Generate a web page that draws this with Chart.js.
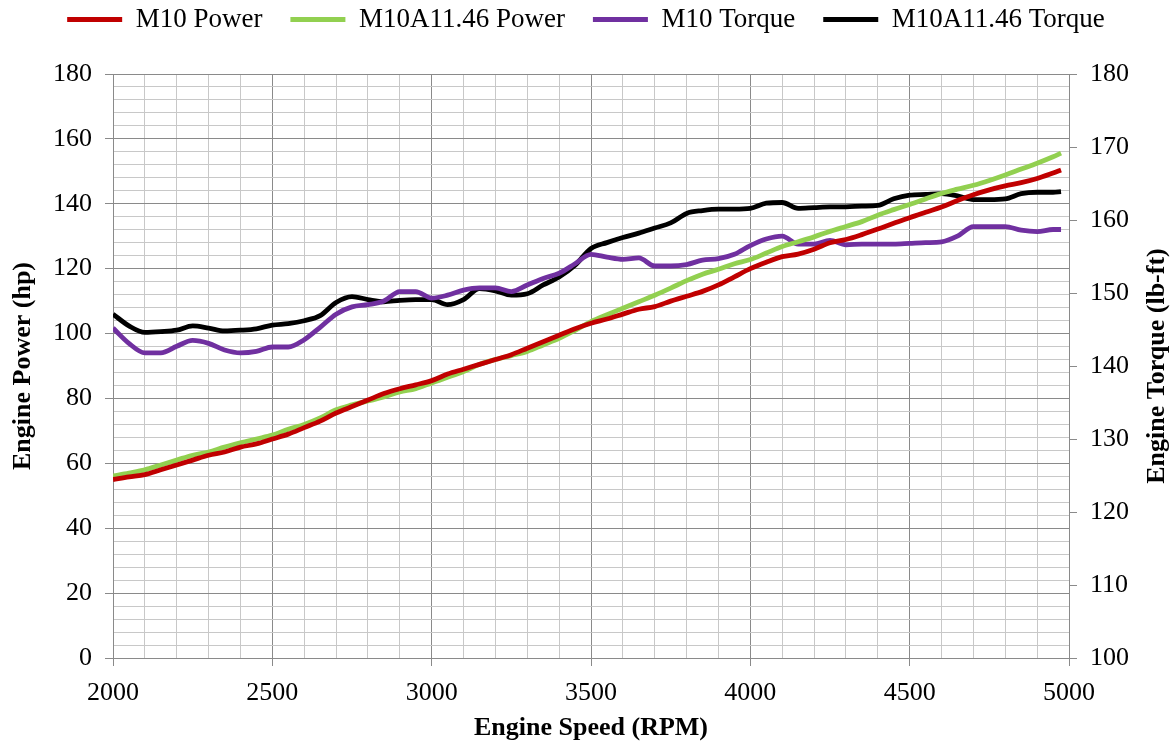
<!DOCTYPE html>
<html>
<head>
<meta charset="utf-8">
<script src="https://cdn.jsdelivr.net/npm/chart.js@4.4.1/dist/chart.umd.min.js"></script>
<style>
  body { margin: 0; background: #fff; }
  #wrap { width: 1172px; height: 744px; }
</style>
</head>
<body>
<div id="wrap"><canvas id="engineChart"></canvas></div>
<script>
// engine speed (RPM), shared by all four series
const rpm = [
  2000, 2050, 2100, 2150, 2200, 2250, 2300, 2350, 2400, 2450,
  2500, 2550, 2600, 2650, 2700, 2750, 2800, 2850, 2900, 2950,
  3000, 3050, 3100, 3150, 3200, 3250, 3300, 3350, 3400, 3450,
  3500, 3550, 3600, 3650, 3700, 3750, 3800, 3850, 3900, 3950,
  4000, 4050, 4100, 4150, 4200, 4250, 4300, 4350, 4400, 4450,
  4500, 4550, 4600, 4650, 4700, 4750, 4800, 4850, 4900, 4950,
  4975
];

// power in hp (left axis)
const m10Power = [
  55, 55.8, 56.5, 58, 59.5, 61, 62.5, 63.5, 65, 66,
  67.5, 69, 71, 73, 75.5, 77.5, 79.5, 81.5, 83, 84.2,
  85.5, 87.5, 89, 90.5, 92, 93.5, 95.5, 97.5, 99.5, 101.5,
  103.2, 104.5, 106, 107.5, 108.3, 110, 111.5, 113, 115, 117.5,
  120, 122, 123.7, 124.5, 126, 128, 129, 130.5, 132.2, 134,
  135.7, 137.4, 139, 141, 142.8, 144.3, 145.5, 146.5, 147.8, 149.5,
  150.4
];
const m10aPower = [
  56.1, 57, 58, 59.5, 61, 62.5, 63.5, 65, 66.3, 67.5,
  68.7, 70.5, 72, 74, 76.5, 78, 79.2, 80.5, 82, 83,
  84.8, 86.5, 88.3, 90.5, 92, 93.2, 94.5, 96.5, 98.5, 101,
  103.7, 105.8, 107.8, 109.8, 111.8, 114, 116.3, 118.3, 119.8, 121.5,
  122.8, 124.8, 126.8, 128.3, 129.8, 131.5, 133, 134.5, 136.5, 138.2,
  139.8, 141.5, 143.2, 144.5, 145.7, 147.2, 148.9, 150.7, 152.5, 154.5,
  155.6
];

// torque in lb-ft (right axis)
const m10Torque = [
  145.2, 143.1, 141.8, 141.8, 142.7, 143.5, 143.1, 142.2, 141.8, 142.0,
  142.6, 142.6, 143.6, 145.3, 147.1, 148.1, 148.4, 148.9, 150.2, 150.2,
  149.3, 149.7, 150.4, 150.7, 150.7, 150.2, 151.1, 152.0, 152.7, 154.0,
  155.3, 154.9, 154.6, 154.8, 153.7, 153.7, 153.9, 154.5, 154.7, 155.3,
  156.5, 157.4, 157.8, 156.7, 156.7, 157.2, 156.6, 156.7, 156.7, 156.7,
  156.8, 156.9, 157.0, 157.8, 159.1, 159.1, 159.1, 158.6, 158.4, 158.7,
  158.7
];
const m10aTorque = [
  147.1, 145.5, 144.6, 144.7, 144.9, 145.5, 145.2, 144.8, 144.9, 145.1,
  145.6, 145.8, 146.2, 146.9, 148.7, 149.5, 149.1, 148.8, 149.0, 149.1,
  149.1, 148.4, 149.1, 150.6, 150.3, 149.7, 149.9, 151.1, 152.2, 153.8,
  156.1, 156.9, 157.6, 158.2, 158.9, 159.6, 160.9, 161.3, 161.5, 161.5,
  161.6, 162.3, 162.4, 161.6, 161.7, 161.8, 161.8, 161.9, 162.0, 162.9,
  163.4, 163.5, 163.6, 163.3, 162.8, 162.8, 162.9, 163.6, 163.8, 163.8,
  163.9
];

const MAJOR = "#8a8a8a";
const MINOR = "#c8c8c8";
const FONT = "'Liberation Serif', 'Times New Roman', serif";
const TORQUE_TITLE = "Engine Torque (lb-ft)";

Chart.defaults.font.family = FONT;
Chart.defaults.color = "#000";

function points(ys) {
  return rpm.map((x, i) => ({ x, y: ys[i] }));
}

function series(label, ys, color, axis) {
  return {
    label,
    data: points(ys),
    borderColor: color,
    backgroundColor: color,
    borderWidth: 4.8,
    pointRadius: 0,
    cubicInterpolationMode: "monotone",
    yAxisID: axis,
  };
}

// legend sits high, and the plot starts at y=74
const legendHeight = {
  id: "legendHeight",
  beforeInit(chart) {
    const fit = chart.legend.fit;
    chart.legend.fit = function () {
      fit.call(this);
      this.height = 96;
    };
  },
};

// right axis title reads bottom-to-top, like the left one
const torqueTitle = {
  id: "torqueTitle",
  afterDraw(chart) {
    const s = chart.scales.torque;
    const ctx = chart.ctx;
    ctx.save();
    ctx.translate(s.right - 15, (s.top + s.bottom) / 2);
    ctx.rotate(-Math.PI / 2);
    ctx.font = "bold 26px " + FONT;
    ctx.fillStyle = "#000";
    ctx.textAlign = "center";
    ctx.textBaseline = "middle";
    ctx.fillText(TORQUE_TITLE, 0, 0);
    ctx.restore();
  },
};

new Chart(document.getElementById("engineChart"), {
  type: "line",
  data: {
    datasets: [
      series("M10 Power", m10Power, "#c00000", "power"),
      series("M10A11.46 Power", m10aPower, "#92d050", "power"),
      series("M10 Torque", m10Torque, "#7030a0", "torque"),
      series("M10A11.46 Torque", m10aTorque, "#000000", "torque"),
    ],
  },
  options: {
    responsive: true,
    maintainAspectRatio: false,
    animation: false,
    layout: { padding: { top: -22, left: 0, right: 0, bottom: 0 } },
    plugins: {
      tooltip: { enabled: false },
      legend: {
        position: "top",
        labels: {
          font: { size: 27 },
          boxWidth: 55,
          boxHeight: 5,
          padding: 28,
          generateLabels: chart =>
            Chart.defaults.plugins.legend.labels
              .generateLabels(chart)
              .map(l => ({ ...l, lineWidth: 0 })),
        },
      },
    },
    scales: {
      x: {
        type: "linear",
        min: 2000,
        max: 5000,
        afterFit: s => { s.height = 86; },
        ticks: {
          stepSize: 100,
          autoSkip: false,
          maxRotation: 0,
          padding: 12,
          font: { size: 26 },
          callback: v => (v % 500 === 0 ? v : ""),
        },
        grid: {
          color: c => (c.tick && c.tick.value % 500 === 0 ? MAJOR : MINOR),
          tickColor: c => (c.tick && c.tick.value % 500 === 0 ? MAJOR : "transparent"),
          tickLength: 8,
        },
        border: { color: MAJOR },
        title: {
          display: true,
          text: "Engine Speed (RPM)",
          font: { size: 26, weight: "bold" },
          padding: { top: 0, bottom: 0 },
        },
      },
      power: {
        type: "linear",
        position: "left",
        min: 0,
        max: 180,
        afterFit: s => { s.width = 113; },
        ticks: {
          stepSize: 4,
          autoSkip: false,
          padding: 13,
          font: { size: 26 },
          callback: v => (v % 20 === 0 ? v : ""),
        },
        grid: {
          color: c => (c.tick && c.tick.value % 20 === 0 ? MAJOR : MINOR),
          tickColor: c => (c.tick && c.tick.value % 20 === 0 ? MAJOR : "transparent"),
          tickLength: 8,
        },
        border: { color: MAJOR },
        title: {
          display: true,
          text: "Engine Power (hp)",
          font: { size: 26, weight: "bold" },
          padding: { top: 8, bottom: 0 },
        },
      },
      torque: {
        type: "linear",
        position: "right",
        min: 100,
        max: 180,
        afterFit: s => { s.width = 103; },
        ticks: {
          stepSize: 10,
          padding: 13,
          font: { size: 26 },
        },
        grid: {
          drawOnChartArea: false,
          tickColor: MAJOR,
          tickLength: 8,
        },
        border: { color: MAJOR },
      },
    },
  },
  plugins: [legendHeight, torqueTitle],
});
</script>
</body>
</html>
